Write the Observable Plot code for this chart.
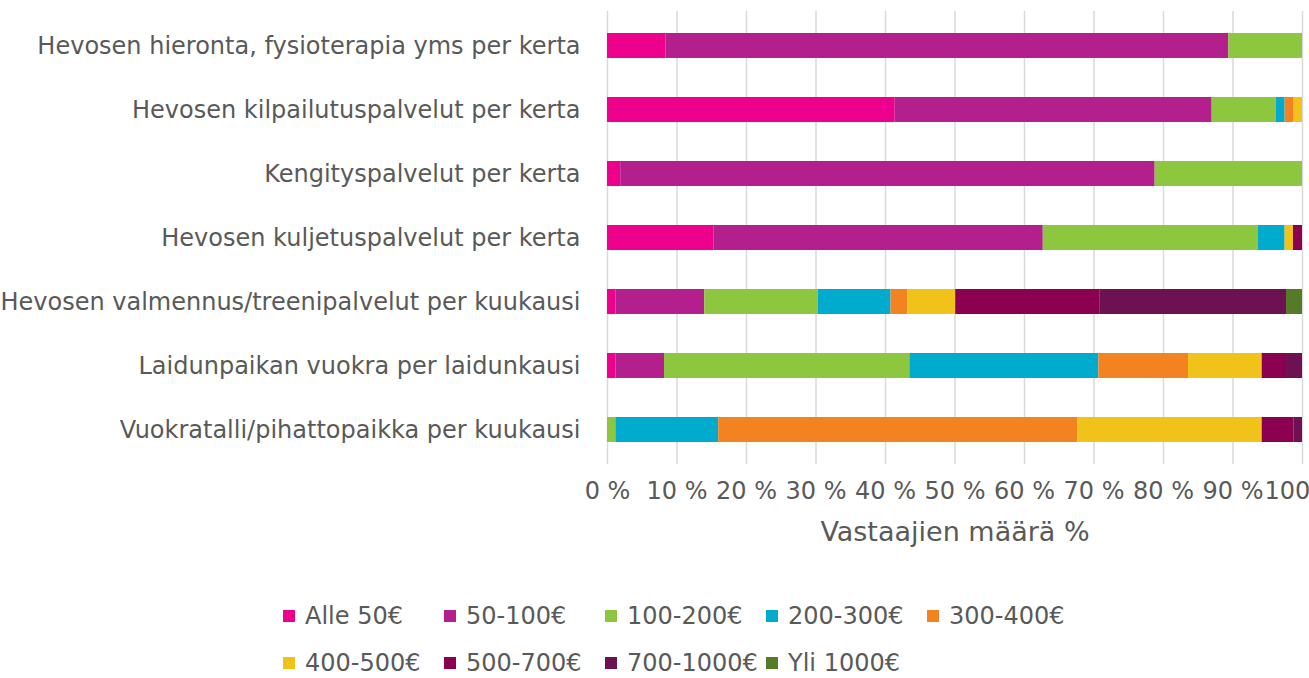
<!DOCTYPE html>
<html>
<head>
<meta charset="utf-8">
<script src="https://cdn.jsdelivr.net/npm/d3@7"></script>
<script src="https://cdn.jsdelivr.net/npm/@observablehq/plot@0.6"></script>
<style>
  html, body { margin: 0; padding: 0; background: #fff; overflow: hidden; }
  body { width: 1309px; height: 678px; font-family: "DejaVu Sans", Verdana, sans-serif; }
  #legend {
    display: grid;
    grid-template-columns: repeat(5, 161px);
    grid-auto-rows: 47.5px;
    margin-left: 283px;
    padding-top: 18px;
    font-size: 24px;
    color: #595959;
  }
  .item { display: flex; align-items: center; white-space: nowrap; }
  .sw { width: 12px; height: 12px; margin-right: 10px; flex: none; }
</style>
</head>
<body>
<div id="chart"></div>
<div id="legend"></div>
<script>
// Categories, top to bottom
const categories = [
  "Hevosen hieronta, fysioterapia yms per kerta",
  "Hevosen kilpailutuspalvelut per kerta",
  "Kengityspalvelut per kerta",
  "Hevosen kuljetuspalvelut per kerta",
  "Hevosen valmennus/treenipalvelut per kuukausi",
  "Laidunpaikan vuokra per laidunkausi",
  "Vuokratalli/pihattopaikka per kuukausi"
];

// Series names and colours
const seriesNames = ["Alle 50€", "50-100€", "100-200€", "200-300€", "300-400€", "400-500€", "500-700€", "700-1000€", "Yli 1000€"];
const seriesColors = ["#ec008c", "#b41f8e", "#8dc63f", "#00abce", "#f38321", "#f0c21a", "#8b004f", "#6d1152", "#567a25"];

// Values (% of respondents), one array per series, in category order
const alle50    = [8.4, 41.4, 1.9, 15.3, 1.2, 1.2, 0];
const e50_100   = [81.0, 45.6, 76.9, 47.4, 12.8, 7.0, 0];
const e100_200  = [10.6, 9.2, 21.2, 30.9, 16.3, 35.3, 1.2];
const e200_300  = [0, 1.3, 0, 3.9, 10.5, 27.2, 14.8];
const e300_400  = [0, 1.3, 0, 0, 2.4, 12.9, 51.7];
const e400_500  = [0, 1.2, 0, 1.2, 6.9, 10.6, 26.5];
const e500_700  = [0, 0, 0, 1.3, 20.8, 3.5, 4.6];
const e700_1000 = [0, 0, 0, 0, 26.8, 2.3, 1.2];
const yli1000   = [0, 0, 0, 0, 2.3, 0, 0];

// X tick values
const xTicks = [0, 10, 20, 30, 40, 50, 60, 70, 80, 90, 100];
const xTitle = "Vastaajien määrä %";

const seriesValues = [alle50, e50_100, e100_200, e200_300, e300_400, e400_500, e500_700, e700_1000, yli1000];
const table = seriesNames.flatMap((s, i) =>
  categories.map((c, j) => ({series: s, category: c, value: seriesValues[i][j]}))
);

const chart = Plot.plot({
  width: 1309,
  height: 574,
  marginLeft: 607,
  marginRight: 7,
  marginTop: 11,
  marginBottom: 110,
  style: {fontFamily: '"DejaVu Sans", Verdana, sans-serif', color: "#595959", background: "#fff", overflow: "visible"},
  x: {domain: [0, 100]},
  y: {domain: categories, paddingInner: 0.613, paddingOuter: 0.3065},
  color: {domain: seriesNames, range: seriesColors},
  marks: [
    Plot.ruleX(xTicks, {stroke: "#d9d9d9", strokeWidth: 1.5}),
    Plot.barX(table, Plot.stackX({x: "value", y: "category", fill: "series", order: null})),
    Plot.axisY({tickSize: 0, tickPadding: 27, fontSize: 24, fill: "#595959", label: null}),
    Plot.axisX({ticks: xTicks, tickFormat: d => `${d} %`, tickSize: 0, tickPadding: 17, fontSize: 24, fill: "#595959", label: null}),
    Plot.text([xTitle], {frameAnchor: "bottom", dy: 76, fontSize: 27, fill: "#595959"})
  ]
});
document.getElementById("chart").appendChild(chart);

const legend = document.getElementById("legend");
seriesNames.forEach((s, i) => {
  const item = document.createElement("div");
  item.className = "item";
  const sw = document.createElement("span");
  sw.className = "sw";
  sw.style.background = seriesColors[i];
  const t = document.createElement("span");
  t.textContent = s;
  item.appendChild(sw);
  item.appendChild(t);
  legend.appendChild(item);
});
</script>
</body>
</html>
